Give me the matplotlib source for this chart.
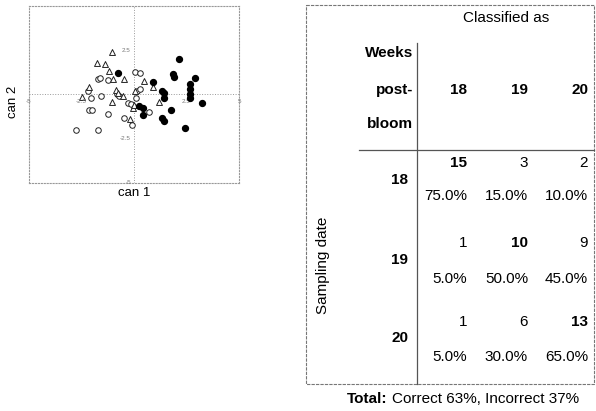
import matplotlib
matplotlib.use("Agg")
import matplotlib.pyplot as plt

plt.rcParams['font.family'] = ['Liberation Sans', 'DejaVu Sans']

# canonical scores, 18 weeks post-bloom (open circles)
wk18_x = [-1.71, -1.64, -1.22, 0.03, 0.29, -2.17, -2.06, -1.59, -2.16, -2.02, -1.25, -2.78,
          -1.70, -0.48, -0.08, -0.27, -0.14, -0.83, -0.70, 0.10, 0.16, 0.29, 0.71]
wk18_y = [0.89, 0.92, 0.81, 1.25, 1.23, 0.17, -0.21, -0.06, -0.85, -0.85, -1.08, -2.03,
          -2.03, -1.33, -1.74, -0.47, -0.51, 0.00, -0.06, -0.19, 0.17, 0.30, -1.00]
# 19 weeks (open triangles)
wk19_x = [-1.03, -1.75, -1.37, -1.17, -0.98, -0.46, 0.48, 0.92, -2.16, -2.49, -0.86, -0.78,
          -0.54, -1.06, 0.05, -0.03, -0.21, 1.21, 0.00]
wk19_y = [2.42, 1.80, 1.70, 1.33, 0.87, 0.87, 0.74, 0.44, 0.44, -0.13, 0.28, 0.11,
          -0.08, -0.45, 0.21, -0.74, -1.36, -0.45, -0.60]
# 20 weeks (filled dots)
wk20_x = [-0.76, 0.89, 2.15, 1.88, 1.89, 2.90, 2.65, 2.65, 2.66, 2.66, 3.22, 1.32, 1.42,
          1.45, 0.25, 0.44, 0.41, 1.32, 1.42, 1.75, 2.44]
wk20_y = [1.23, 0.71, 2.00, 1.18, 1.00, 0.94, 0.57, 0.32, 0.04, -0.19, -0.47, 0.22, 0.07,
          -0.20, -0.66, -0.77, -1.18, -1.34, -1.50, -0.85, -1.87]

tick_vals = [-5, -2.5, 2.5, 5]
tick_labels = ['-5', '-2.5', '2.5', '5']

# classification table
weeks = ['18', '19', '20']
counts = [[15, 3, 2], [1, 10, 9], [1, 6, 13]]
pcts = [['75.0%', '15.0%', '10.0%'], ['5.0%', '50.0%', '45.0%'], ['5.0%', '30.0%', '65.0%']]
total_text = 'Correct 63%, Incorrect 37%'

W, H = 596, 411
fig = plt.figure(figsize=(W / 100, H / 100), dpi=100)

# ---- scatter plot ----
ax = fig.add_axes([29 / W, 1 - 183 / H, 210 / W, 177 / H])
ax.scatter(wk18_x, wk18_y, s=16, facecolors='white', edgecolors='#222222', linewidths=0.7, zorder=3)
ax.scatter(wk19_x, wk19_y, s=18, marker='^', facecolors='white', edgecolors='#222222', linewidths=0.7, zorder=3)
ax.scatter(wk20_x, wk20_y, s=18, color='black', zorder=4)
ax.set_xlim(-5, 5)
ax.set_ylim(-5, 5)
ax.axhline(0, color='#999999', lw=0.7, ls=':', zorder=1)
ax.axvline(0, color='#999999', lw=0.7, ls=':', zorder=1)
for sp in ax.spines.values():
    sp.set_color('#999999')
    sp.set_linestyle(':')
    sp.set_linewidth(0.8)
ax.set_xticks([])
ax.set_yticks([])
for v, lab in zip(tick_vals, tick_labels):
    ax.text(v, -0.25, lab, fontsize=4.5, color='#777777', ha='center', va='top')
    if v != 5:
        ax.text(-0.15, v, lab, fontsize=4.5, color='#777777', ha='right', va='center')
ax.text(0.5, -0.025, 'can 1', transform=ax.transAxes, fontsize=9.5, ha='center', va='top')
ax.text(-0.075, 0.46, 'can 2', transform=ax.transAxes, fontsize=9.5, ha='center', va='center', rotation=90)

# ---- table, drawn in pixel coords ----
tb = fig.add_axes([0, 0, 1, 1])
tb.set_xlim(0, W)
tb.set_ylim(H, 0)
tb.axis('off')
lc = '#555555'
tb.plot([306, 594, 594, 306, 306], [5, 5, 384, 384, 5], color='#777777', lw=0.8, ls=(0, (3, 1)))
tb.plot([417, 417], [43, 384], color=lc, lw=0.9)
tb.plot([359, 594], [150, 150], color=lc, lw=0.9)

fs = 11
d = 4  # baseline offset from visual centre
tb.text(506, 18 + d, 'Classified as', fontsize=fs, ha='center', va='baseline')
for lab, y in zip(['Weeks', 'post-', 'bloom'], [53, 90, 124]):
    tb.text(413, y + d, lab, fontsize=fs, fontweight='bold', ha='right', va='baseline')

col_right = [467, 528, 588]
for j, w in enumerate(weeks):
    tb.text(col_right[j], 90 + d, w, fontsize=fs, fontweight='bold', ha='right', va='baseline')

row_count_y = [163, 243, 322]
row_pct_y = [196, 279, 357]
row_lab_y = [180, 260, 338]
for i, w in enumerate(weeks):
    tb.text(400, row_lab_y[i] + d, w, fontsize=fs, fontweight='bold', ha='center', va='baseline')
    for j in range(3):
        tb.text(col_right[j], row_count_y[i] + d, str(counts[i][j]), fontsize=fs,
                fontweight='bold' if i == j else 'normal', ha='right', va='baseline')
        tb.text(col_right[j], row_pct_y[i] + d, pcts[i][j], fontsize=fs, ha='right', va='baseline')

tb.text(323, 265, 'Sampling date', fontsize=fs, ha='center', va='center', rotation=90)
t1 = tb.text(347, 399 + d, 'Total:', fontsize=fs, fontweight='bold', ha='left', va='baseline')
fig.canvas.draw()
bb = t1.get_window_extent()
tb.text(bb.x1 + 4, 399 + d, total_text, fontsize=fs, ha='left', va='baseline')

fig.savefig('out.png', dpi=100)
